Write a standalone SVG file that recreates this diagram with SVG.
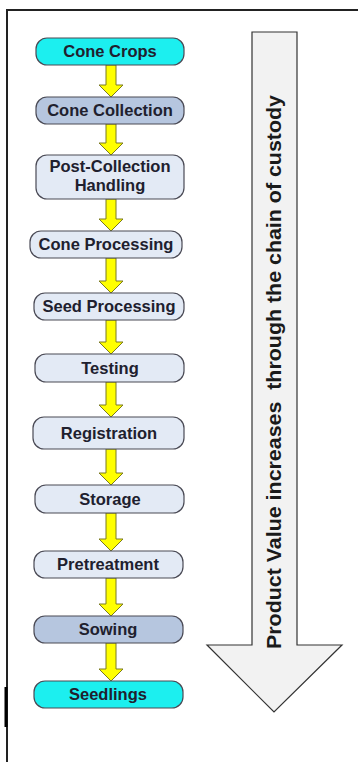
<svg xmlns="http://www.w3.org/2000/svg" width="358" height="762" viewBox="0 0 358 762">
<style>
.box{stroke:#4a4a55;stroke-width:1.2}
.cyan{fill:#1cefef}
.blue{fill:#b6c6df}
.light{fill:#e3eaf5}
.lbl{font-family:"Liberation Sans",Arial,sans-serif;font-weight:bold;font-size:16.5px;fill:#20202e;text-anchor:middle}
.arr{fill:#ffff00;stroke:#7a7a20;stroke-width:1}
.big{fill:#f2f2f2;stroke:#333;stroke-width:1.2}
.bigtxt{font-family:"Liberation Sans",Arial,sans-serif;font-weight:bold;font-size:21px;fill:#1a1a1a;text-anchor:middle}
</style>
<rect width="358" height="762" fill="#ffffff"/>
<g id="frame">
<path d="M7,762 L7,10 L358,10" fill="none" stroke="#222" stroke-width="2"/>
<rect x="4.5" y="687" width="3" height="40" fill="#000"/>
</g>
<g id="value-arrow">
<path class="big" d="M252,32 L297,32 L297,645 L342,645 L274,712 L207,645 L252,645 Z"/>
<text class="bigtxt" transform="translate(281,372) rotate(-90)" textLength="554" lengthAdjust="spacingAndGlyphs" xml:space="preserve">Product Value increases  through the chain of custody</text>
</g>
<g id="connectors">
<path class="arr" d="M106,65 L116,65 L116,85 L123,85 L111,97 L99,85 L106,85 Z"/>
<path class="arr" d="M106,124 L116,124 L116,143 L123,143 L111,155 L99,143 L106,143 Z"/>
<path class="arr" d="M106,199 L116,199 L116,219 L123,219 L111,231 L99,219 L106,219 Z"/>
<path class="arr" d="M106,258 L116,258 L116,281 L123,281 L111,293 L99,281 L106,281 Z"/>
<path class="arr" d="M106,320 L116,320 L116,342 L123,342 L111,354 L99,342 L106,342 Z"/>
<path class="arr" d="M106,382 L116,382 L116,405 L123,405 L111,417 L99,405 L106,405 Z"/>
<path class="arr" d="M106,449 L116,449 L116,473 L123,473 L111,485 L99,473 L106,473 Z"/>
<path class="arr" d="M106,513 L116,513 L116,539 L123,539 L111,551 L99,539 L106,539 Z"/>
<path class="arr" d="M106,578 L116,578 L116,604 L123,604 L111,616 L99,604 L106,604 Z"/>
<path class="arr" d="M106,643 L116,643 L116,669 L123,669 L111,681 L99,669 L106,669 Z"/>
</g>
<g id="cone-crops"><rect class="box cyan" x="36" y="38" width="148" height="27" rx="11"/><text class="lbl" x="110" y="57">Cone Crops</text></g>
<g id="cone-collection"><rect class="box blue" x="36" y="97" width="148" height="27" rx="11"/><text class="lbl" x="110" y="116">Cone Collection</text></g>
<g id="post-collection"><rect class="box light" x="36" y="155" width="148" height="44" rx="11"/><text class="lbl" x="110" y="172">Post-Collection</text><text class="lbl" x="110" y="191">Handling</text></g>
<g id="cone-processing"><rect class="box light" x="30" y="231" width="152" height="27" rx="11"/><text class="lbl" x="106" y="250">Cone Processing</text></g>
<g id="seed-processing"><rect class="box light" x="34" y="293" width="150" height="27" rx="11"/><text class="lbl" x="109" y="312">Seed Processing</text></g>
<g id="testing"><rect class="box light" x="35" y="354" width="149" height="28" rx="11"/><text class="lbl" x="110" y="374">Testing</text></g>
<g id="registration"><rect class="box light" x="33" y="417" width="151" height="32" rx="11"/><text class="lbl" x="109" y="439">Registration</text></g>
<g id="storage"><rect class="box light" x="35" y="485" width="149" height="28" rx="11"/><text class="lbl" x="110" y="505">Storage</text></g>
<g id="pretreatment"><rect class="box light" x="34" y="551" width="149" height="27" rx="11"/><text class="lbl" x="108" y="570">Pretreatment</text></g>
<g id="sowing"><rect class="box blue" x="34" y="616" width="149" height="27" rx="11"/><text class="lbl" x="108" y="635">Sowing</text></g>
<g id="seedlings"><rect class="box cyan" x="34" y="681" width="149" height="27" rx="11"/><text class="lbl" x="108" y="700">Seedlings</text></g>
</svg>
